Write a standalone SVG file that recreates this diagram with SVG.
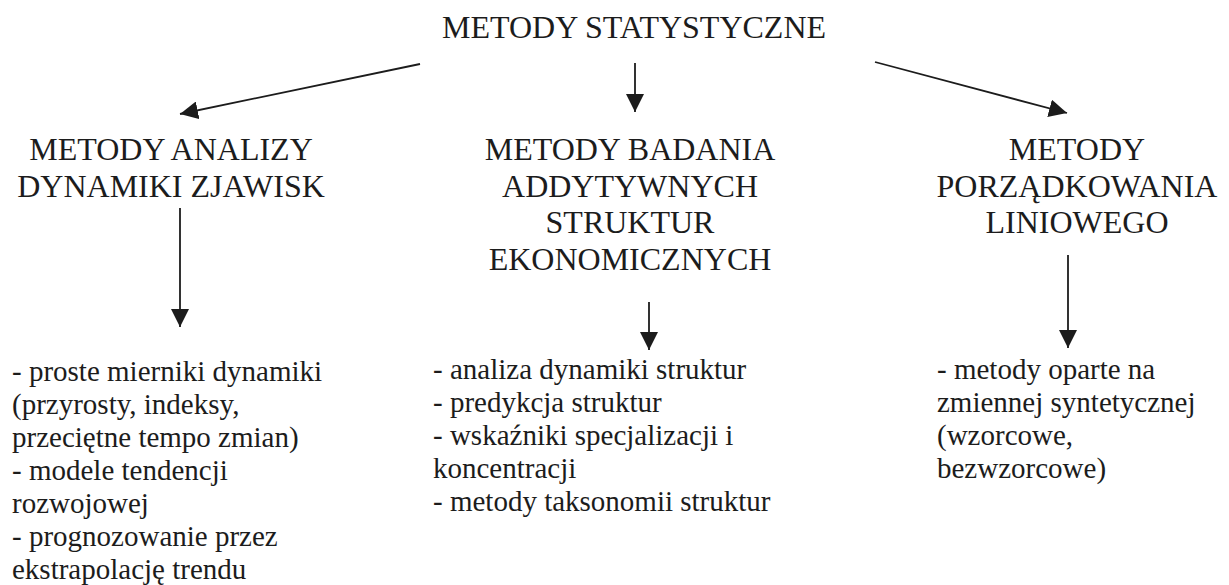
<svg xmlns="http://www.w3.org/2000/svg" width="1229" height="585" viewBox="0 0 1229 585" font-family="Liberation Serif, Tinos, Times New Roman, DejaVu Serif, serif">
<style>
text{font-family:'Liberation Serif','Tinos','Times New Roman','DejaVu Serif',serif;fill:#1c1c1c}
.h{font-size:32px;text-anchor:middle}
.b{font-size:29px}
.c{stroke:#1c1c1c;stroke-width:1.8;fill:none}
</style>
<defs>
<marker id="ah" markerUnits="userSpaceOnUse" markerWidth="18" markerHeight="18" viewBox="0 0 16 16" refX="16" refY="8" orient="auto">
<path d="M0,0 L16,8 L0,16 Z" fill="#1c1c1c"/>
</marker>
</defs>
<rect width="1229" height="585" fill="#fff"/>
<g id="root"><text class="h" x="634" y="38">METODY STATYSTYCZNE</text></g>
<g id="dyn">
<text class="h" x="171" y="160">METODY ANALIZY</text>
<text class="h" x="171" y="197">DYNAMIKI ZJAWISK</text>
</g>
<g id="add">
<text class="h" x="630" y="160">METODY BADANIA</text>
<text class="h" x="630" y="197">ADDYTYWNYCH</text>
<text class="h" x="630" y="233">STRUKTUR</text>
<text class="h" x="630" y="270">EKONOMICZNYCH</text>
</g>
<g id="lin">
<text class="h" x="1077" y="160">METODY</text>
<text class="h" x="1077" y="197">PORZĄDKOWANIA</text>
<text class="h" x="1077" y="233">LINIOWEGO</text>
</g>
<g id="dyn-list">
<text class="b" x="12" y="381">- proste mierniki dynamiki</text>
<text class="b" x="12" y="414">(przyrosty, indeksy,</text>
<text class="b" x="12" y="447">przeciętne tempo zmian)</text>
<text class="b" x="12" y="480">- modele tendencji</text>
<text class="b" x="12" y="513">rozwojowej</text>
<text class="b" x="12" y="546">- prognozowanie przez</text>
<text class="b" x="12" y="579">ekstrapolację trendu</text>
</g>
<g id="add-list">
<text class="b" x="433" y="379">- analiza dynamiki struktur</text>
<text class="b" x="433" y="412">- predykcja struktur</text>
<text class="b" x="433" y="445">- wskaźniki specjalizacji i</text>
<text class="b" x="433" y="478">koncentracji</text>
<text class="b" x="433" y="511">- metody taksonomii struktur</text>
</g>
<g id="lin-list">
<text class="b" x="937" y="379">- metody oparte na</text>
<text class="b" x="937" y="412">zmiennej syntetycznej</text>
<text class="b" x="937" y="445">(wzorcowe,</text>
<text class="b" x="937" y="478">bezwzorcowe)</text>
</g>
<g id="connectors">
<line class="c" x1="420" y1="64" x2="180" y2="114" marker-end="url(#ah)"/>
<line class="c" x1="635" y1="63" x2="635" y2="112" marker-end="url(#ah)"/>
<line class="c" x1="875" y1="62" x2="1067" y2="113" marker-end="url(#ah)"/>
<line class="c" x1="180" y1="208" x2="180" y2="327" marker-end="url(#ah)"/>
<line class="c" x1="649" y1="302" x2="649" y2="350" marker-end="url(#ah)"/>
<line class="c" x1="1068" y1="255" x2="1068" y2="348" marker-end="url(#ah)"/>
</g>
</svg>
